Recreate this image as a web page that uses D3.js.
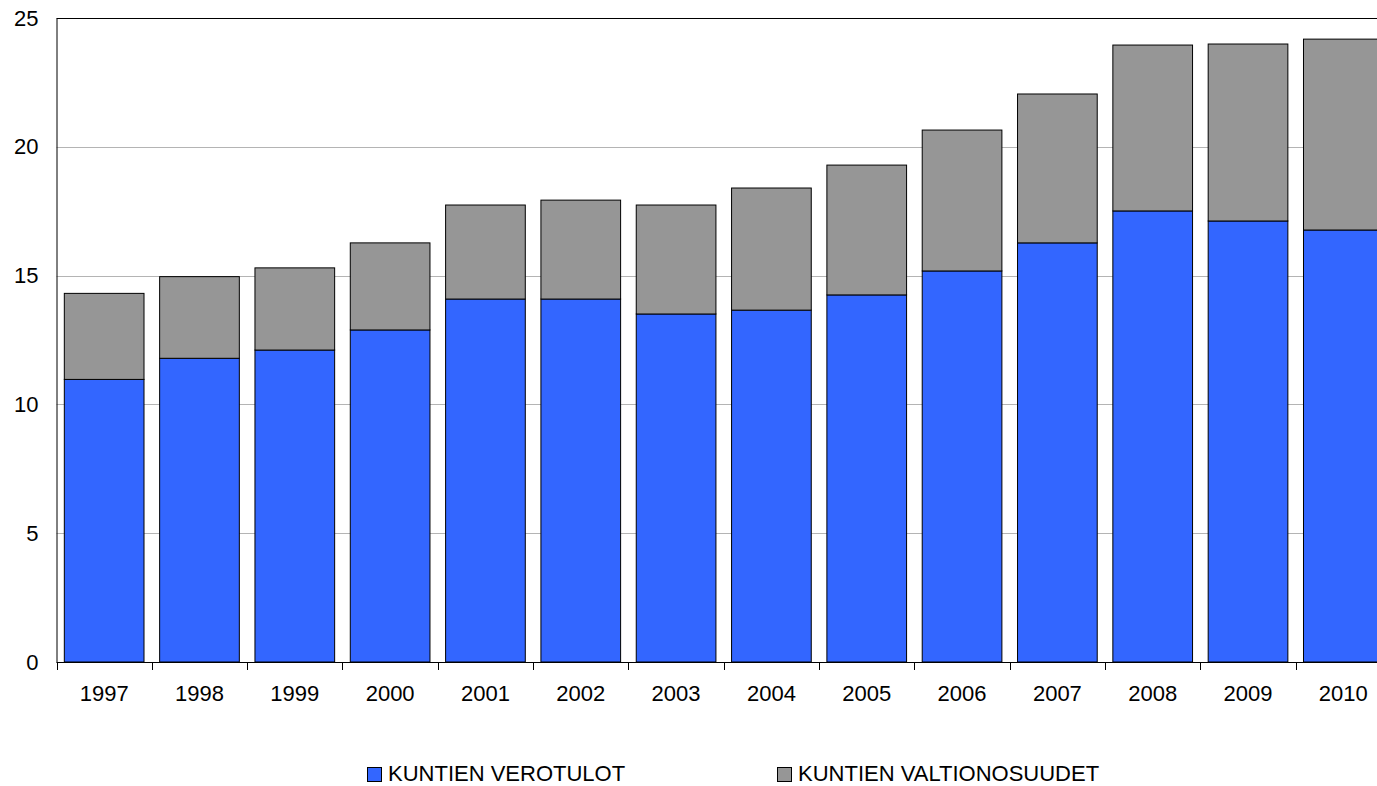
<!DOCTYPE html>
<html>
<head>
<meta charset="utf-8">
<script src="https://cdn.jsdelivr.net/npm/d3@7/dist/d3.min.js"></script>
<style>
  html, body { margin: 0; padding: 0; background: #fff; }
  svg { display: block; font-family: Arial, "Liberation Sans", sans-serif; }
</style>
</head>
<body>
<svg id="chart" width="1377" height="786"></svg>
<script>
const years = ["1997","1998","1999","2000","2001","2002","2003","2004","2005","2006","2007","2008","2009","2010"];
const verotulot = [10.97, 11.79, 12.11, 12.89, 14.09, 14.09, 13.51, 13.66, 14.25, 15.18, 16.27, 17.51, 17.12, 16.77];
const valtionosuudet = [3.34, 3.17, 3.19, 3.38, 3.65, 3.84, 4.23, 4.74, 5.04, 5.47, 5.78, 6.44, 6.87, 7.41];
const seriesNames = ["KUNTIEN VEROTULOT", "KUNTIEN VALTIONOSUUDET"];
const seriesColors = ["#3366FF", "#969696"];
const yTicks = [0, 5, 10, 15, 20, 25];

const svg = d3.select("#chart");
const plotLeft = 56.5, plotTop = 18, plotBottom = 662, bandEnd = 1391;

const x = d3.scaleBand().domain(years).range([plotLeft, bandEnd]).paddingInner(0.164).paddingOuter(0.082);
const xb = d3.scaleBand().domain(years).range([plotLeft, bandEnd]).padding(0);
const y = d3.scaleLinear().domain([0, 25]).range([plotBottom, plotTop]);

// gridlines
svg.append("g").selectAll("line").data(yTicks.filter(d => d > 0 && d < 25)).join("line")
  .attr("x1", plotLeft).attr("x2", 1377)
  .attr("y1", d => Math.round(y(d)) + 0.5).attr("y2", d => Math.round(y(d)) + 0.5)
  .attr("stroke", "#b4b4b4").attr("stroke-width", 1);

// top border
svg.append("line").attr("x1", plotLeft).attr("x2", 1377).attr("y1", plotTop + 0.5).attr("y2", plotTop + 0.5)
  .attr("stroke", "#000").attr("stroke-width", 1);

// stacked data
const rows = years.map((yr, i) => ({ year: yr, a: verotulot[i], b: valtionosuudet[i] }));
const stack = d3.stack().keys(["a", "b"])(rows);

svg.append("g").selectAll("g").data(stack).join("g")
  .attr("fill", (d, i) => seriesColors[i])
  .selectAll("rect").data(d => d).join("rect")
  .attr("x", d => x(d.data.year))
  .attr("width", x.bandwidth())
  .attr("y", d => y(d[1]))
  .attr("height", d => y(d[0]) - y(d[1]))
  .attr("stroke", "#000").attr("stroke-width", 1);

// y axis
const yAxis = d3.axisLeft(y).tickValues(yTicks).tickSize(0).tickPadding(18);
const gy = svg.append("g").attr("transform", `translate(${plotLeft},0)`).call(yAxis);
gy.select(".domain").attr("stroke", "#000");
gy.selectAll("text").attr("font-size", 22).attr("fill", "#000")
  .attr("font-family", "Arial, 'Liberation Sans', sans-serif");

// x axis
const xAxis = d3.axisBottom(xb).tickSize(0).tickPadding(23);
const gx = svg.append("g").attr("transform", `translate(0,${plotBottom})`).call(xAxis);
gx.select(".domain").remove();
gx.selectAll("text").attr("font-size", 22).attr("fill", "#000")
  .attr("font-family", "Arial, 'Liberation Sans', sans-serif");
gx.append("line").attr("x1", plotLeft).attr("x2", 1377).attr("y1", 0.5).attr("y2", 0.5).attr("stroke", "#000");
// boundary ticks
const boundaries = years.map(yv => xb(yv)).concat([xb(years[years.length - 1]) + xb.bandwidth()]).filter(v => v <= 1377);
gx.append("g").selectAll("line").data(boundaries).join("line")
  .attr("x1", d => Math.round(d) + 0.5).attr("x2", d => Math.round(d) + 0.5)
  .attr("y1", 0).attr("y2", 8).attr("stroke", "#000");

// legend
const legendPos = [367, 777];
const lg = svg.append("g");
seriesNames.forEach((name, i) => {
  lg.append("rect").attr("x", legendPos[i] + 0.5).attr("y", 767.5).attr("width", 14).attr("height", 14)
    .attr("fill", seriesColors[i]).attr("stroke", "#000").attr("stroke-width", 1);
  lg.append("text").attr("x", legendPos[i] + 21).attr("y", 781)
    .attr("font-size", 22).attr("fill", "#000").text(name);
});
</script>
</body>
</html>
